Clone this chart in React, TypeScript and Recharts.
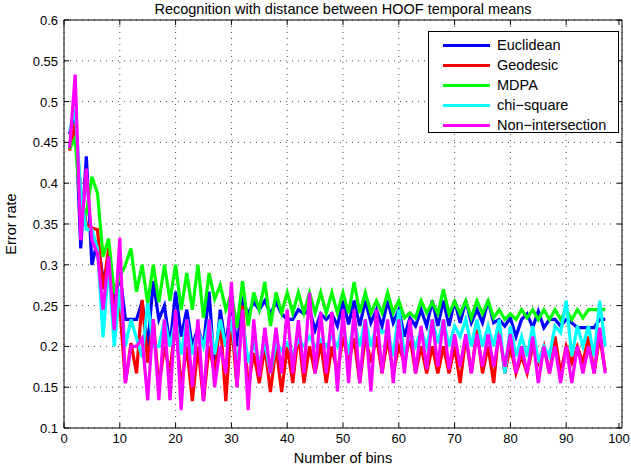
import React from "react";
import {
  CartesianGrid,
  Legend,
  Line,
  LineChart,
  ReferenceLine,
  XAxis,
  YAxis,
} from "recharts";

const bins = Array.from({ length: 97 }, (_, i) => i + 1);

const euclidean = [
  0.46, 0.49, 0.32, 0.433, 0.3, 0.33, 0.283, 0.3, 0.25, 0.29,
  0.233, 0.233, 0.233, 0.255, 0.2, 0.28, 0.233, 0.25, 0.2, 0.267,
  0.212, 0.245, 0.2, 0.223, 0.2, 0.267, 0.167, 0.245, 0.2, 0.255,
  0.2, 0.256, 0.24, 0.254, 0.245, 0.256, 0.24, 0.254, 0.24, 0.233,
  0.233, 0.245, 0.24, 0.245, 0.22, 0.24, 0.233, 0.24, 0.225, 0.256,
  0.227, 0.256, 0.225, 0.256, 0.229, 0.245, 0.225, 0.256, 0.229, 0.245,
  0.212, 0.235, 0.225, 0.245, 0.225, 0.256, 0.225, 0.256, 0.225, 0.256,
  0.229, 0.256, 0.229, 0.245, 0.229, 0.256, 0.229, 0.233, 0.225, 0.235,
  0.212, 0.233, 0.24, 0.223, 0.243, 0.223, 0.233, 0.233, 0.225, 0.233,
  0.229, 0.223, 0.223, 0.223, 0.223, 0.233, 0.233,
];

const geodesic = [
  0.44, 0.473, 0.39, 0.35, 0.345, 0.343, 0.27, 0.32, 0.236, 0.25,
  0.155, 0.204, 0.167, 0.257, 0.18, 0.233, 0.15, 0.2, 0.167, 0.233,
  0.15, 0.2, 0.133, 0.2, 0.133, 0.2, 0.167, 0.233, 0.133, 0.233,
  0.15, 0.25, 0.15, 0.192, 0.155, 0.2, 0.144, 0.2, 0.144, 0.2,
  0.155, 0.217, 0.155, 0.2, 0.167, 0.204, 0.155, 0.2, 0.167, 0.212,
  0.18, 0.21, 0.155, 0.212, 0.18, 0.212, 0.167, 0.21, 0.167, 0.2,
  0.18, 0.212, 0.167, 0.2, 0.167, 0.2, 0.167, 0.2, 0.167, 0.2,
  0.155, 0.212, 0.167, 0.221, 0.167, 0.2, 0.155, 0.223, 0.167, 0.2,
  0.167, 0.188, 0.167, 0.2, 0.18, 0.2, 0.167, 0.212, 0.167, 0.2,
  0.18, 0.2, 0.18, 0.212, 0.167, 0.212, 0.17,
];

const mdpa = [
  0.442, 0.455, 0.365, 0.363, 0.408, 0.388, 0.31, 0.332, 0.265, 0.285,
  0.3, 0.32, 0.267, 0.3, 0.253, 0.3, 0.254, 0.3, 0.256, 0.3,
  0.245, 0.29, 0.245, 0.3, 0.235, 0.29, 0.258, 0.275, 0.245, 0.265,
  0.223, 0.28, 0.225, 0.266, 0.245, 0.279, 0.225, 0.266, 0.241, 0.266,
  0.241, 0.266, 0.241, 0.266, 0.241, 0.266, 0.241, 0.266, 0.241, 0.266,
  0.241, 0.279, 0.241, 0.266, 0.241, 0.256, 0.241, 0.266, 0.241, 0.256,
  0.235, 0.241, 0.235, 0.256, 0.241, 0.254, 0.24, 0.27, 0.24, 0.255,
  0.24, 0.256, 0.235, 0.256, 0.24, 0.256, 0.235, 0.245, 0.233, 0.24,
  0.233, 0.245, 0.235, 0.245, 0.233, 0.245, 0.233, 0.245, 0.233, 0.245,
  0.233, 0.245, 0.235, 0.245, 0.245, 0.245, 0.245,
];

const chiSquare = [
  0.465, 0.49, 0.39, 0.343, 0.343, 0.32, 0.211, 0.3, 0.2, 0.27,
  0.2, 0.233, 0.21, 0.187, 0.253, 0.2, 0.2, 0.233, 0.2, 0.233,
  0.19, 0.233, 0.19, 0.22, 0.2, 0.233, 0.19, 0.233, 0.2, 0.233,
  0.175, 0.233, 0.18, 0.204, 0.18, 0.204, 0.167, 0.204, 0.195, 0.204,
  0.19, 0.208, 0.2, 0.212, 0.2, 0.208, 0.2, 0.212, 0.2, 0.227,
  0.19, 0.233, 0.2, 0.233, 0.2, 0.225, 0.217, 0.22, 0.188, 0.245,
  0.188, 0.217, 0.2, 0.22, 0.2, 0.233, 0.204, 0.233, 0.2, 0.225,
  0.212, 0.233, 0.2, 0.233, 0.2, 0.225, 0.2, 0.233, 0.167, 0.225,
  0.188, 0.212, 0.188, 0.225, 0.18, 0.2, 0.188, 0.225, 0.217, 0.256,
  0.188, 0.225, 0.2, 0.225, 0.188, 0.256, 0.2,
];

const nonIntersection = [
  0.443, 0.533, 0.33, 0.418, 0.33, 0.314, 0.245, 0.31, 0.22, 0.333,
  0.155, 0.2, 0.2, 0.21, 0.134, 0.233, 0.134, 0.233, 0.134, 0.245,
  0.122, 0.233, 0.15, 0.233, 0.133, 0.233, 0.15, 0.2, 0.167, 0.279,
  0.15, 0.245, 0.122, 0.233, 0.163, 0.223, 0.167, 0.223, 0.167, 0.245,
  0.167, 0.232, 0.167, 0.266, 0.167, 0.242, 0.167, 0.242, 0.145, 0.245,
  0.155, 0.245, 0.155, 0.233, 0.145, 0.245, 0.167, 0.233, 0.155, 0.233,
  0.167, 0.233, 0.167, 0.225, 0.172, 0.233, 0.175, 0.233, 0.172, 0.215,
  0.175, 0.215, 0.167, 0.215, 0.175, 0.215, 0.175, 0.215, 0.175, 0.215,
  0.167, 0.2, 0.167, 0.212, 0.155, 0.2, 0.167, 0.2, 0.155, 0.2,
  0.155, 0.2, 0.167, 0.2, 0.167, 0.223, 0.167,
];

const xTicks = [0, 10, 20, 30, 40, 50, 60, 70, 80, 90, 100];
const yTicks = [0.1, 0.15, 0.2, 0.25, 0.3, 0.35, 0.4, 0.45, 0.5, 0.55, 0.6];

const series = [
  { key: "euclidean", name: "Euclidean", color: "#0000ff" },
  { key: "geodesic", name: "Geodesic", color: "#ff0000" },
  { key: "mdpa", name: "MDPA", color: "#00ff00" },
  { key: "chiSquare", name: "chi\u2212square", color: "#00ffff" },
  { key: "nonIntersection", name: "Non\u2212intersection", color: "#ff00ff" },
];

const data = bins.map((b, i) => ({
  bin: b,
  euclidean: euclidean[i],
  geodesic: geodesic[i],
  mdpa: mdpa[i],
  chiSquare: chiSquare[i],
  nonIntersection: nonIntersection[i],
}));

const font = "'Liberation Sans', Arial, Helvetica, sans-serif";
const plotW = 558;
const plotH = 408;

const XTick = (props: any) => {
  const { x, y, payload } = props;
  return (
    <g>
      <line x1={x} x2={x} y1={y} y2={y - 5} stroke="#000" />
      <line x1={x} x2={x} y1={y - plotH} y2={y - plotH + 5} stroke="#000" />
      <text x={x} y={y + 15} textAnchor="middle" fontSize={13} fill="#000" fontFamily={font}>
        {payload.value}
      </text>
    </g>
  );
};

const YTick = (props: any) => {
  const { x, y, payload } = props;
  return (
    <g>
      <line x1={x} x2={x + 5} y1={y} y2={y} stroke="#000" />
      <line x1={x + plotW} x2={x + plotW - 5} y1={y} y2={y} stroke="#000" />
      <text x={x - 6} y={y + 5} textAnchor="end" fontSize={13} fill="#000" fontFamily={font}>
        {payload.value}
      </text>
    </g>
  );
};

const LegendBox = () => (
  <div
    style={{
      border: "1px solid #000",
      background: "#fff",
      width: 191,
      height: 102,
      boxSizing: "border-box",
      padding: "3px 0 0 14px",
      fontFamily: font,
      fontSize: 14.5,
    }}
  >
    {series.map((s) => (
      <div key={s.key} style={{ display: "flex", alignItems: "center", height: 20 }}>
        <div style={{ width: 47, height: 3, background: s.color, marginRight: 7 }} />
        <span>{s.name}</span>
      </div>
    ))}
  </div>
);

export default function App() {
  return (
    <div style={{ position: "absolute", left: 0, top: 0, width: 631, height: 467, background: "#fff" }}>
      <div
        style={{
          position: "absolute",
          left: 64,
          top: 1,
          width: plotW,
          textAlign: "center",
          fontFamily: font,
          fontSize: 14.5,
        }}
      >
        Recognition with distance between HOOF temporal means
      </div>
      <LineChart
        width={631}
        height={467}
        data={data}
        margin={{ top: 20, right: 9, left: 0, bottom: 0 }}
      >
        <CartesianGrid stroke="#000" strokeDasharray="1 5" strokeOpacity={0.7} verticalValues={xTicks} horizontalValues={yTicks} />
        <XAxis
          dataKey="bin"
          type="number"
          domain={[0, 100]}
          ticks={xTicks}
          height={39}
          tickSize={0}
          tickMargin={0}
          tickLine={false}
          axisLine={{ stroke: "#000" }}
          tick={<XTick />}
          label={{ value: "Number of bins", position: "insideBottom", offset: 4, fill: "#000", fontSize: 14.5, fontFamily: font }}
        />
        <YAxis
          type="number"
          domain={[0.1, 0.6]}
          ticks={yTicks}
          width={64}
          tickSize={0}
          tickMargin={0}
          tickLine={false}
          axisLine={{ stroke: "#000" }}
          tick={<YTick />}
          label={{ value: "Error rate", angle: -90, position: "insideLeft", offset: 11, fill: "#000", fontSize: 14.5, fontFamily: font, style: { textAnchor: "middle" } }}
        />
        <ReferenceLine y={0.6} stroke="#000" />
        <ReferenceLine x={100} stroke="#000" />
        <Legend
          layout="vertical"
          align="center"
          verticalAlign="middle"
          content={<LegendBox />}
          wrapperStyle={{ position: "absolute", left: 428, top: 31, width: 191 }}
        />
        {series.map((s) => (
          <Line
            key={s.key}
            type="linear"
            dataKey={s.key}
            name={s.name}
            stroke={s.color}
            strokeWidth={3.2}
            dot={false}
            isAnimationActive={false}
          />
        ))}
      </LineChart>
    </div>
  );
}
